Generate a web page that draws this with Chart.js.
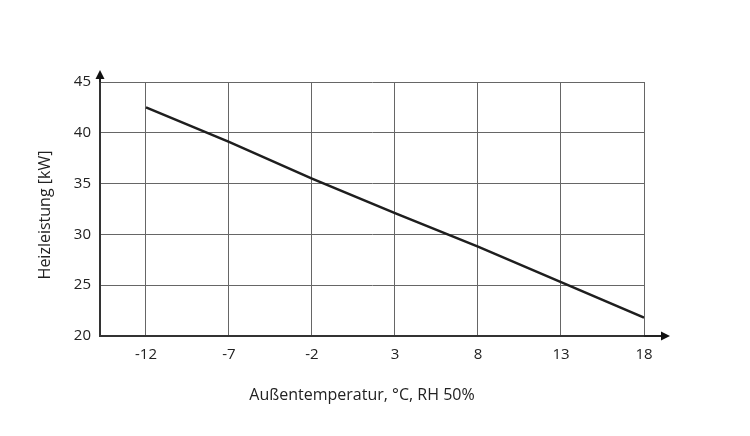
<!DOCTYPE html>
<html><head><meta charset="utf-8">
<script src="https://cdn.jsdelivr.net/npm/chart.js@4"></script>
<style>html,body{margin:0;padding:0;background:#fff}#w{width:750px;height:436px}</style>
</head><body><div id="w"><canvas id="c" width="750" height="436"></canvas></div>
<script>
const temperatures = [-12, -7, -2, 3, 8, 13, 18];
const heatingPower = [42.5, 39.1, 35.5, 32.1, 28.8, 25.3, 21.8];
const yTicks = [20, 25, 30, 35, 40, 45];
const xTitle = 'Außentemperatur, °C, RH 50%';
const yTitle = 'Heizleistung [kW]';

const FONT = '"Open Sans", "DejaVu Sans", sans-serif';

const decorations = {
  id: 'decorations',
  afterDraw(chart) {
    const {ctx, chartArea: a} = chart;
    ctx.save();
    ctx.strokeStyle = '#222'; ctx.fillStyle = '#111'; ctx.lineWidth = 2;
    ctx.beginPath(); ctx.moveTo(a.right, a.bottom); ctx.lineTo(663, a.bottom); ctx.stroke();
    ctx.beginPath(); ctx.moveTo(a.left, a.top); ctx.lineTo(a.left, 76); ctx.stroke();
    ctx.beginPath(); ctx.moveTo(670, a.bottom); ctx.lineTo(661, a.bottom - 4.5); ctx.lineTo(661, a.bottom + 4.5); ctx.closePath(); ctx.fill();
    ctx.beginPath(); ctx.moveTo(a.left, 70); ctx.lineTo(a.left - 4.5, 79); ctx.lineTo(a.left + 4.5, 79); ctx.closePath(); ctx.fill();
    // axis titles
    ctx.fillStyle = '#222';
    ctx.font = '16px ' + FONT;
    ctx.textAlign = 'center'; ctx.textBaseline = 'middle';
    ctx.fillText(xTitle, 362, 395);
    ctx.translate(45, 215); ctx.rotate(-Math.PI / 2);
    ctx.fillText(yTitle, 0, 0);
    ctx.restore();
  }
};

new Chart(document.getElementById('c'), {
  type: 'line',
  data: {
    datasets: [{
      data: temperatures.map((t, i) => ({x: t, y: heatingPower[i]})),
      borderColor: '#1e1e1e', borderWidth: 2.5, pointRadius: 0, tension: 0, fill: false
    }]
  },
  options: {
    responsive: false, animation: false, events: [],
    layout: {padding: {top: 82, right: 106, left: 0, bottom: 0}},
    plugins: {legend: {display: false}, tooltip: {enabled: false}},
    scales: {
      x: {
        type: 'linear', min: -14.77, max: 18,
        afterBuildTicks(s) { s.ticks = temperatures.map(v => ({value: v})); },
        afterFit(s) { s.height = 100; },
        grid: {color: '#666', lineWidth: 1, drawTicks: false},
        border: {color: '#333', width: 2},
        ticks: {color: '#222', font: {family: FONT, size: 15}, padding: 10, maxRotation: 0},
        title: {display: false}
      },
      y: {
        min: 20, max: 45,
        afterBuildTicks(s) { s.ticks = yTicks.map(v => ({value: v})); },
        afterFit(s) { s.width = 100; },
        grid: {color: '#666', lineWidth: 1, drawTicks: false},
        border: {color: '#333', width: 2},
        ticks: {color: '#222', font: {family: FONT, size: 15}, padding: 9},
        title: {display: false}
      }
    }
  },
  plugins: [decorations]
});
</script></body></html>
